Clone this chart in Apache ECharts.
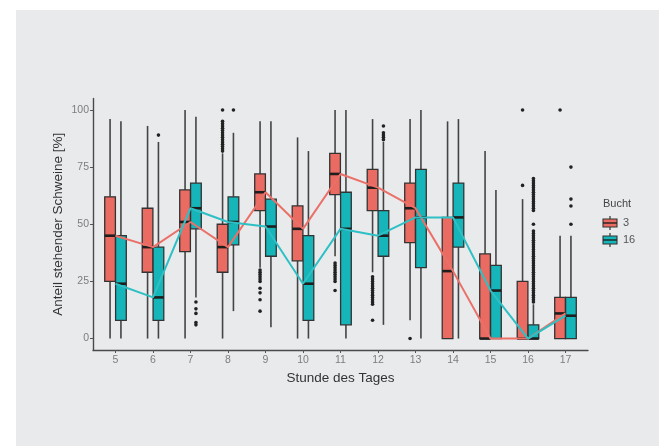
<!DOCTYPE html>
<html>
<head>
<meta charset="utf-8">
<script src="https://cdn.jsdelivr.net/npm/echarts@6/dist/echarts.min.js"></script>
<style>
  html, body { margin: 0; padding: 0; background: #ffffff; }
  #bg { position: absolute; left: 16px; top: 10px; right: 0; bottom: 0; width: 643px; height: 436px; background: #E9EAEC; }
  #chart { position: absolute; left: 0; top: 0; width: 659px; height: 446px; }
</style>
</head>
<body>
<div id="bg"></div>
<div id="chart"></div>
<script>
// ---- Data ----
const hours = [5, 6, 7, 8, 9, 10, 11, 12, 13, 14, 15, 16, 17];
const yTicks = [0, 25, 50, 75, 100];
const groupNames = ['3', '16'];

// [lower whisker, Q1, median, Q3, upper whisker] for each hour
const box3 = [
  [0, 25, 45, 62, 96],
  [0, 29, 40, 57, 93],
  [0, 38, 51, 65, 100],
  [0, 29, 40, 50, 81],
  [31, 56, 64, 72, 95],
  [0, 34, 48, 58, 88],
  [36, 63, 72, 81, 100],
  [29, 56, 66, 74, 96],
  [8, 42, 57, 68, 96],
  [0, 0, 29.5, 53, 95],
  [0, 0, 0, 37, 82],
  [0, 0, 0, 25, 61],
  [0, 0, 11, 18, 45]
];
const box16 = [
  [0, 8, 24, 45, 95],
  [0, 8, 18, 40, 86],
  [18, 48, 57, 68, 97],
  [12, 41, 51, 62, 90],
  [5, 36, 49, 61, 95],
  [0, 8, 24, 45, 82],
  [0, 6, 48, 64, 100],
  [6, 36, 45, 56, 86],
  [0, 31, 53, 74, 100],
  [0, 40, 53, 68, 96],
  [0, 0, 21, 32, 65],
  [0, 0, 0, 6, 15],
  [0, 0, 10, 18, 45]
];

// outliers per hour
const out3 = [
  [], [], [],
  [100, 95, 94, 93, 92, 91, 90, 89, 88, 87, 86, 85, 84, 83, 82],
  [30, 29, 28, 27, 26, 25, 22, 20, 17, 12],
  [],
  [33, 32, 31, 30, 29, 28, 27, 26, 25, 21],
  [27, 26, 25, 24, 23, 22, 21, 20, 19, 18, 17, 16, 15, 8],
  [0],
  [], [],
  [100, 67],
  [100]
];
const out16 = [
  [],
  [89],
  [16, 13, 11, 7, 6],
  [100],
  [], [], [],
  [93, 90, 89, 88, 87],
  [], [], [],
  [70, 69, 68, 67, 66, 65, 64, 63, 62, 61, 60, 59, 58, 57, 56, 50, 47, 46, 45, 44, 43, 42, 41, 40, 39, 38, 37, 36, 35, 34, 33, 32, 31, 30, 29, 28, 27, 26, 25, 24, 23, 22, 21, 20, 19, 18, 17, 16],
  [75, 61, 58, 50]
];

// ---- Styles ----
const RED = '#EA6B62';
const TEAL = '#16B5B9';
const RED_LINE = '#EA7068';
const TEAL_LINE = '#2EC0C4';
const DODGE = 0.145;
const BOX_W = 0.285;
const FONT = '"Liberation Sans", Arial, sans-serif';

function boxData(stats) {
  return hours.map((h, i) => [h].concat(stats[i]));
}
function outData(outs) {
  const res = [];
  hours.forEach((h, i) => outs[i].forEach(v => res.push([h, v])));
  return res;
}
function medLine(stats) {
  return hours.map((h, i) => [h, stats[i][2]]);
}

function boxRenderer(offset, fill) {
  return function (params, api) {
    const x = api.value(0) + offset;
    const pMin = api.coord([x, api.value(1)]);
    const pQ1 = api.coord([x, api.value(2)]);
    const pMed = api.coord([x, api.value(3)]);
    const pQ3 = api.coord([x, api.value(4)]);
    const pMax = api.coord([x, api.value(5)]);
    const half = api.size([BOX_W, 0])[0] / 2;
    const cx = pMed[0];
    const stroke = { stroke: '#444444', lineWidth: 1.6 };
    return {
      type: 'group',
      children: [
        { type: 'line', shape: { x1: cx, y1: pMax[1], x2: cx, y2: pQ3[1] }, style: stroke },
        { type: 'line', shape: { x1: cx, y1: pQ1[1], x2: cx, y2: pMin[1] }, style: stroke },
        { type: 'rect', shape: { x: cx - half, y: pQ3[1], width: 2 * half, height: Math.max(pQ1[1] - pQ3[1], 0.5) },
          style: { fill: fill, stroke: '#333333', lineWidth: 1.3 } },
        { type: 'line', shape: { x1: cx - half, y1: pMed[1], x2: cx + half, y2: pMed[1] },
          style: { stroke: '#1e1e1e', lineWidth: 2.6 } }
      ]
    };
  };
}
function outRenderer(offset) {
  return function (params, api) {
    const p = api.coord([api.value(0) + offset, api.value(1)]);
    return { type: 'circle', shape: { cx: p[0], cy: p[1], r: 1.8 }, style: { fill: '#222222' } };
  };
}

const chart = echarts.init(document.getElementById('chart'), null, { renderer: 'canvas' });

const legendX = 603;
function legendKey(y, fill) {
  return [
    { type: 'line', shape: { x1: legendX + 7, y1: y - 7, x2: legendX + 7, y2: y + 7 }, style: { stroke: '#333', lineWidth: 1.2 } },
    { type: 'rect', shape: { x: legendX, y: y - 4, width: 14, height: 8 }, style: { fill: fill, stroke: '#333', lineWidth: 1.1 } },
    { type: 'line', shape: { x1: legendX, y1: y, x2: legendX + 14, y2: y }, style: { stroke: '#222', lineWidth: 1.4 } }
  ];
}

chart.setOption({
  backgroundColor: 'transparent',
  animation: false,
  grid: { left: 93, right: 71, top: 98.5, bottom: 96, containLabel: false },
  xAxis: {
    type: 'value', min: 4.4, max: 17.6,
    name: 'Stunde des Tages', nameLocation: 'middle', nameGap: 15,
    nameTextStyle: { color: '#333', fontSize: 13.5, fontFamily: FONT },
    splitLine: { show: false },
    axisLine: { show: true, onZero: false, lineStyle: { color: '#4a4a4a', width: 1.4 } },
    axisTick: { show: true, customValues: hours, length: 3, lineStyle: { color: '#555', width: 1 } },
    axisLabel: { customValues: hours, color: '#7d7d7d', fontSize: 10.5, fontFamily: FONT, margin: 5 }
  },
  yAxis: {
    type: 'value', min: -5, max: 105,
    name: 'Anteil stehender Schweine [%]', nameLocation: 'middle', nameGap: 28, nameRotate: 90,
    nameMoveOverlap: false,
    nameTextStyle: { color: '#333', fontSize: 13.5, fontFamily: FONT },
    splitLine: { show: false },
    axisLine: { show: true, onZero: false, lineStyle: { color: '#4a4a4a', width: 1.4 } },
    axisTick: { show: true, customValues: yTicks, length: 3, lineStyle: { color: '#555', width: 1 } },
    axisLabel: { customValues: yTicks, color: '#7d7d7d', fontSize: 10.5, fontFamily: FONT, margin: 4 }
  },
  series: [
    { type: 'custom', name: groupNames[0], data: boxData(box3), renderItem: boxRenderer(-DODGE, RED), z: 2,
      encode: { x: 0, y: [1, 2, 3, 4, 5] } },
    { type: 'custom', name: groupNames[1], data: boxData(box16), renderItem: boxRenderer(DODGE, TEAL), z: 2,
      encode: { x: 0, y: [1, 2, 3, 4, 5] } },
    { type: 'custom', data: outData(out3), renderItem: outRenderer(-DODGE), z: 3, encode: { x: 0, y: 1 } },
    { type: 'custom', data: outData(out16), renderItem: outRenderer(DODGE), z: 3, encode: { x: 0, y: 1 } },
    { type: 'line', data: medLine(box3), symbol: 'none', z: 4,
      lineStyle: { color: RED_LINE, width: 2 } },
    { type: 'line', data: medLine(box16), symbol: 'none', z: 4,
      lineStyle: { color: TEAL_LINE, width: 2 } }
  ],
  graphic: [
    { type: 'text', left: legendX, top: 198, style: { text: 'Bucht', fill: '#444', fontSize: 11, fontFamily: FONT } }
  ].concat(
    legendKey(223, RED),
    legendKey(240, TEAL),
    [
      { type: 'text', x: 623, y: 223, style: { text: groupNames[0], fill: '#555', fontSize: 11, fontFamily: FONT, verticalAlign: 'middle' } },
      { type: 'text', x: 623, y: 240, style: { text: groupNames[1], fill: '#555', fontSize: 11, fontFamily: FONT, verticalAlign: 'middle' } }
    ]
  )
});
</script>
</body>
</html>
